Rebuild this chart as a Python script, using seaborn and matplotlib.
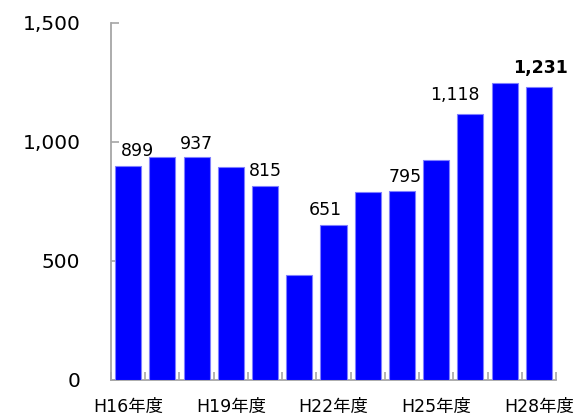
import matplotlib
matplotlib.use("Agg")
import matplotlib.pyplot as plt
from matplotlib.ticker import FuncFormatter, FixedLocator
import seaborn as sns
import pandas as pd

# Fiscal years H16..H28 and yearly counts
years = ["H16年度", "H17年度", "H18年度", "H19年度", "H20年度", "H21年度", "H22年度",
         "H23年度", "H24年度", "H25年度", "H26年度", "H27年度", "H28年度"]
counts = [899, 935, 937, 892, 815, 441, 651, 790, 795, 923, 1118, 1248, 1231]

# Years whose value is printed above the bar
labelled_years = ["H16年度", "H18年度", "H20年度", "H22年度", "H24年度", "H26年度", "H28年度"]
# Years shown on the category axis
shown_years = ["H16年度", "H19年度", "H22年度", "H25年度", "H28年度"]

sns.set_theme(style="white")
plt.rcParams["font.family"] = ["DejaVu Sans", "Noto Sans CJK JP"]

df = pd.DataFrame({"year": years, "count": counts})

fig = plt.figure(figsize=(5.75, 4.18), dpi=100)
ax = fig.add_axes([0.193, 0.0916, 0.774, 0.854])

sns.barplot(data=df, x="year", y="count", order=years, color="#0000ff",
            saturation=1, width=0.76, edgecolor="#7f7fff", linewidth=0.8, ax=ax)

ax.set_xlim(-0.5, len(years) - 0.5)
ax.set_ylim(0, 1500)
ax.set_xlabel("")
ax.set_ylabel("")

# spines
for side in ("top", "right"):
    ax.spines[side].set_visible(False)
for side in ("left", "bottom"):
    ax.spines[side].set_color("#a6a6a6")
    ax.spines[side].set_linewidth(1.3)
    ax.spines[side].set_zorder(0.5)

# y axis
ax.set_yticks([0, 500, 1000, 1500])
ax.yaxis.set_major_formatter(FuncFormatter(lambda v, p: f"{int(v):,}"))
ax.tick_params(axis="y", direction="in", length=6, width=1.2, color="#a6a6a6",
               pad=22, labelsize=14.5, labelcolor="black", left=True)

# x axis: labels under selected years, tick marks at category boundaries
pos = [years.index(y) for y in shown_years]
ax.set_xticks(pos)
ax.set_xticklabels(shown_years)
ax.tick_params(axis="x", which="major", length=0, pad=13, labelsize=12.5,
               labelcolor="black", bottom=True)
ax.xaxis.set_minor_locator(FixedLocator([i - 0.5 for i in range(len(years) + 1)]))
ax.tick_params(axis="x", which="minor", direction="in", length=6, width=1.2,
               color="#a6a6a6", bottom=True)

# value labels (pixel nudges keep them clear of neighbours)
nudges = {"H16年度": (9, 10), "H18年度": (0, 8), "H20年度": (0, 10),
          "H22年度": (-8, 10), "H24年度": (3, 9), "H26年度": (-16, 14),
          "H28年度": (2, 14)}
for y in labelled_years:
    i = years.index(y)
    v = counts[i]
    dx, dy = nudges[y]
    last = (y == years[-1])
    ax.annotate(f"{v:,}", xy=(i, v), xytext=(dx, dy), textcoords="offset pixels",
                ha="center", va="baseline", fontsize=12.5,
                fontweight="bold" if last else "normal", color="black")

fig.savefig("out.png", dpi=100)
